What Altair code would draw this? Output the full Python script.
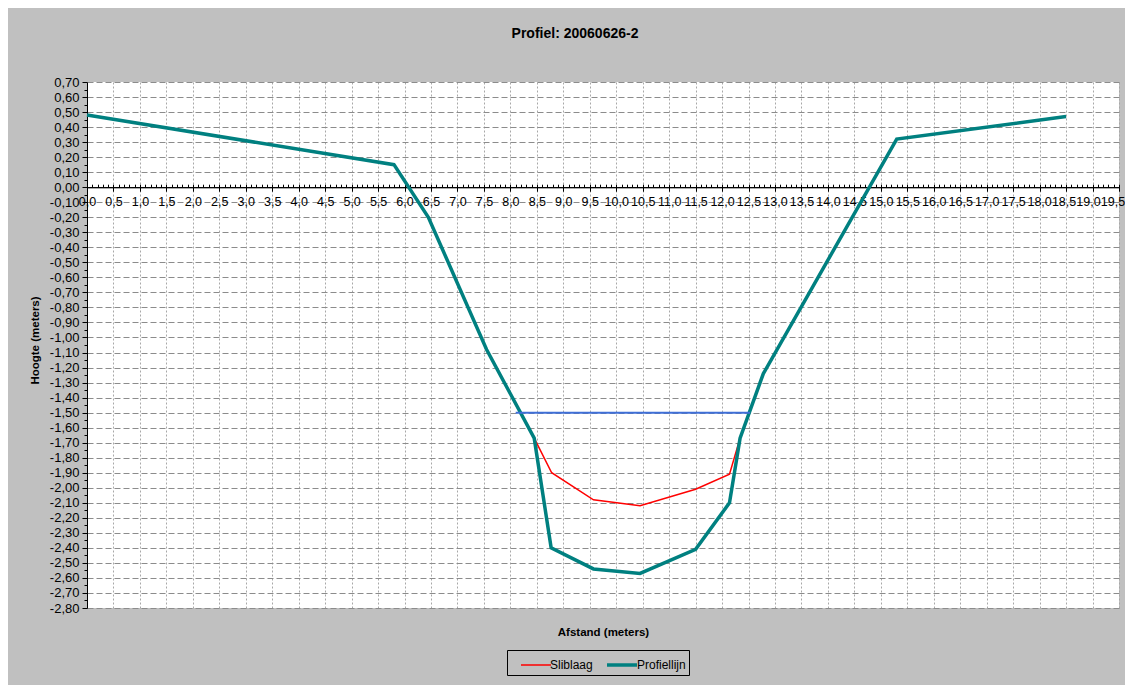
import altair as alt
import pandas as pd

# ---- data ----
profiel_x = [0.0, 5.8, 6.45, 7.55, 8.45, 8.77, 9.57, 10.45, 11.5, 12.14, 12.34, 12.78, 15.3, 18.5]
profiel_y = [0.48, 0.15, -0.20, -1.08, -1.67, -2.40, -2.54, -2.57, -2.41, -2.10, -1.67, -1.24, 0.32, 0.47]

slib_x = [8.45, 8.78, 9.57, 10.45, 11.5, 12.14, 12.34]
slib_y = [-1.67, -1.90, -2.08, -2.12, -2.01, -1.91, -1.67]

water_x = [8.1, 12.53]
water_y = [-1.50, -1.50]

series_names = ["Sliblaag", "Profiellijn"]
series_colors = ["#FF0000", "#008080"]
series_widths = [1.5, 3.5]

x_ticks = [i / 2 for i in range(0, 40)]
x_minor = [i / 10 for i in range(0, 196)]
y_ticks = [i / 10 for i in range(-28, 8)]
y_minor = [(2 * i + 1) / 20 for i in range(-28, 7)]

FONT = "Liberation Sans"
W, H = 1032, 526
Y_MIN, Y_MAX = -2.8, 0.7
zero_px = (Y_MAX - 0) / (Y_MAX - Y_MIN) * H

rows = []
for i, (x, y) in enumerate(zip(slib_x, slib_y)):
    rows.append({"x": x, "y": y, "series": "Sliblaag", "idx": i})
for i, (x, y) in enumerate(zip(profiel_x, profiel_y)):
    rows.append({"x": x, "y": y, "series": "Profiellijn", "idx": i})
df = pd.DataFrame(rows)
wdf = pd.DataFrame({"x": water_x, "y": water_y})

fmt_x = "replace(replace(format(datum.value, '.1f'), '.', ','), '\u2212', '-')"
fmt_y = "replace(replace(format(datum.value, '.2f'), '.', ','), '\u2212', '-')"

xscale = alt.Scale(domain=[0, 19.5], nice=False, zero=False)
yscale = alt.Scale(domain=[Y_MIN, Y_MAX], nice=False, zero=False)

legend = alt.Legend(
    title=None, orient="none", legendX=420, legendY=568, direction="horizontal",
    symbolType="M0,0L3,0", symbolSize=400, labelFont=FONT, labelFontSize=12,
    labelColor="black", padding=3, strokeColor="black", fillColor="#C0C0C0",
    columnPadding=2, labelOffset=18,
)

# last labels nudged left so they stay on the page without overlapping
label_shift = {
    "condition": [
        {"test": "datum.value >= 19.5", "value": -6.5},
        {"test": "datum.value >= 19", "value": -4.5},
        {"test": "datum.value >= 18.5", "value": -2.5},
        {"test": "datum.value >= 18", "value": -0.5},
    ],
    "value": 0,
}

lines = alt.Chart(df).mark_line().encode(
    x=alt.X("x:Q", scale=xscale, axis=alt.Axis(
        orient="bottom", offset=-(H - zero_px), values=x_ticks, labelExpr=fmt_x,
        labelOverlap=False, labelFlush=False, labelFont=FONT, labelFontSize=12.5,
        labelColor="black", labelPadding=4, tickSize=4, tickColor="black",
        labelOffset=label_shift,
        domainColor="black", domainWidth=1,
        grid=True, gridColor="#A8A8A8", gridDash=[2, 2], gridWidth=1,
        title="Afstand (meters)", titleX=W / 2, titleY=445.5, titleBaseline="middle",
        titleAlign="center", titleFont=FONT, titleFontSize=11.5, titleFontWeight="bold",
        titleColor="black")),
    y=alt.Y("y:Q", scale=yscale, axis=alt.Axis(
        orient="left", values=y_ticks, labelExpr=fmt_y, labelOverlap=False,
        labelFlush=False, labelFont=FONT, labelFontSize=13, labelColor="black",
        labelPadding=3, tickSize=5, tickColor="black", domainColor="black",
        grid=True, gridColor="#8C8C8C", gridDash=[6, 3], gridWidth=1.2,
        title="Hoogte (meters)", titleX=-52, titleY=258, titleAngle=270,
        titleBaseline="middle", titleAlign="center", titleFont=FONT,
        titleFontSize=11.5, titleFontWeight="bold", titleColor="black")),
    color=alt.Color("series:N", scale=alt.Scale(domain=series_names, range=series_colors), legend=legend),
    strokeWidth=alt.StrokeWidth("series:N", scale=alt.Scale(domain=series_names, range=series_widths), legend=legend),
    detail="series:N",
    order=alt.Order("idx:Q"),
)

water = alt.Chart(wdf).mark_line(color="#3F6FD8", strokeWidth=2).encode(
    x=alt.X("x:Q", scale=xscale, axis=alt.Axis(
        orient="top", offset=-zero_px, values=x_minor, labels=False, tickSize=3,
        tickColor="black", domain=True, domainColor="black", grid=False, title=None)),
    y=alt.Y("y:Q", scale=yscale, axis=alt.Axis(
        orient="left", values=y_minor, labels=False, tickSize=3, tickColor="black",
        domain=False, grid=False, title=None)),
)

chart = alt.layer(lines, water).resolve_axis(x="independent", y="independent").properties(
    width=W, height=H,
    autosize=alt.AutoSizeParams(type="none"),
    padding={"left": 79, "top": 74, "right": 6, "bottom": 77},
    title=alt.TitleParams("Profiel: 20060626-2", font=FONT, fontSize=14, fontWeight="bold",
                          color="black", anchor="middle", dx=-28, offset=35),
).configure(background="#C0C0C0").configure_view(fill="white", strokeWidth=0)

chart.save("out.html", embed_options={"renderer": "svg", "actions": False})
